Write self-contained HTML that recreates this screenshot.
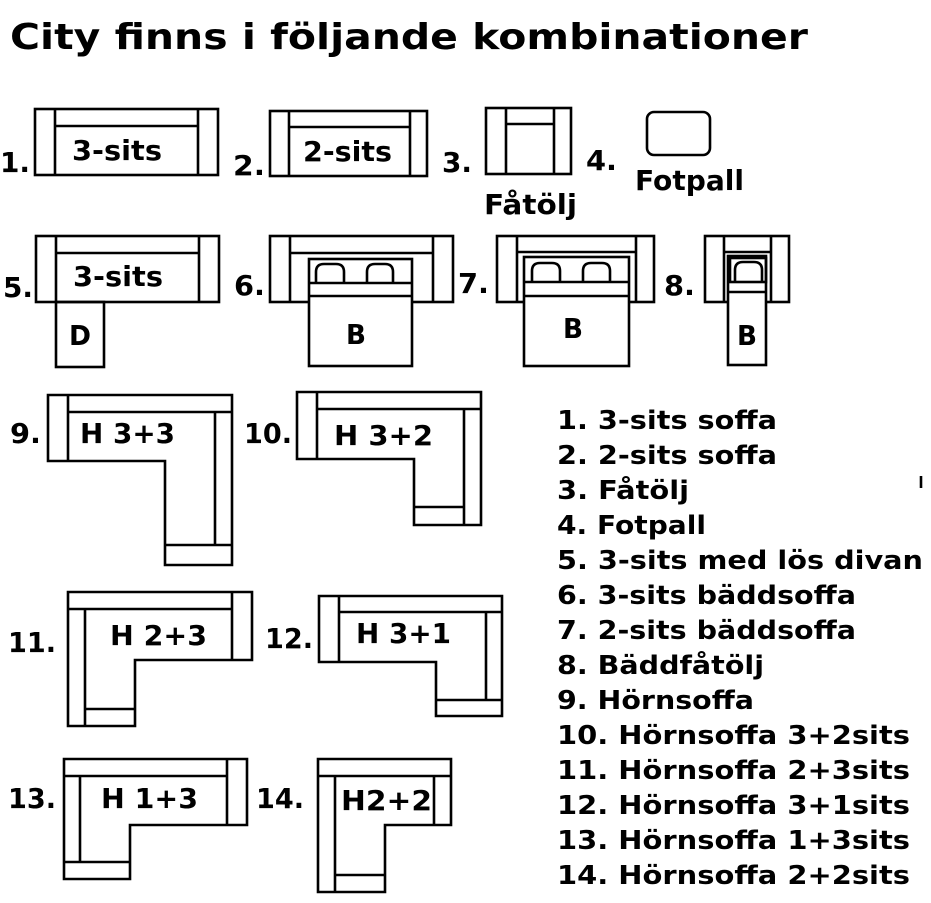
<!DOCTYPE html>
<html><head><meta charset="utf-8"><style>
html,body{margin:0;padding:0;background:#fff;}
svg{display:block}
text{font-family:"DejaVu Sans","Liberation Sans",sans-serif;font-weight:bold;fill:#000}
</style></head><body>
<svg width="931" height="903" viewBox="0 0 931 903" xmlns="http://www.w3.org/2000/svg">
<g fill="none" stroke="#000" stroke-width="2.6">
<rect x="35" y="109" width="183" height="66"/><line x1="55" y1="109" x2="55" y2="175"/><line x1="198" y1="109" x2="198" y2="175"/><line x1="55" y1="126" x2="198" y2="126"/>
<rect x="270" y="111" width="157" height="65"/><line x1="289" y1="111" x2="289" y2="176"/><line x1="410" y1="111" x2="410" y2="176"/><line x1="289" y1="127" x2="410" y2="127"/>
<rect x="486" y="108" width="85" height="66"/><line x1="506" y1="108" x2="506" y2="174"/><line x1="554" y1="108" x2="554" y2="174"/><line x1="506" y1="124" x2="554" y2="124"/>
<rect x="647" y="112" width="63" height="43" rx="7"/>
<rect x="36" y="236" width="183" height="66"/><line x1="56" y1="236" x2="56" y2="302"/><line x1="199" y1="236" x2="199" y2="302"/><line x1="56" y1="253" x2="199" y2="253"/>
<rect x="56" y="302" width="48" height="65"/>
<rect x="270" y="236" width="183" height="66"/><line x1="290" y1="236" x2="290" y2="302"/><line x1="433" y1="236" x2="433" y2="302"/><line x1="290" y1="253" x2="433" y2="253"/>
<rect x="309" y="259" width="103" height="107" fill="#fff"/><line x1="309" y1="283" x2="412" y2="283"/><line x1="309" y1="296" x2="412" y2="296"/>
<path d="M316 283 V272 Q316 264 324 264 H336 Q344 264 344 272 V283"/><path d="M367 283 V272 Q367 264 375 264 H385 Q393 264 393 272 V283"/>
<rect x="497" y="236" width="157" height="66"/><line x1="517" y1="236" x2="517" y2="302"/><line x1="636" y1="236" x2="636" y2="302"/><line x1="517" y1="252" x2="636" y2="252"/>
<rect x="524" y="257" width="105" height="109" fill="#fff"/><line x1="524" y1="282" x2="629" y2="282"/><line x1="524" y1="296" x2="629" y2="296"/>
<path d="M532 282 V271 Q532 263 540 263 H552 Q560 263 560 271 V282"/><path d="M583 282 V271 Q583 263 591 263 H602 Q610 263 610 271 V282"/>
<rect x="705" y="236" width="84" height="66"/><line x1="724" y1="236" x2="724" y2="302"/><line x1="771" y1="236" x2="771" y2="302"/><line x1="724" y1="252" x2="771" y2="252"/>
<rect x="728" y="256" width="38" height="109" fill="#fff"/><rect x="730" y="258" width="36" height="24"/><line x1="728" y1="292" x2="766" y2="292"/>
<path d="M735 282 V270 Q735 262 743 262 H754 Q762 262 762 270 V282"/>
<path d="M48 395 H232 V565 H165 V461 H48 Z"/><line x1="68" y1="395" x2="68" y2="461"/><line x1="68" y1="412" x2="232" y2="412"/><line x1="215" y1="412" x2="215" y2="545"/><line x1="165" y1="545" x2="232" y2="545"/>
<path d="M297 392 H481 V525 H414 V459 H297 Z"/><line x1="317" y1="392" x2="317" y2="459"/><line x1="317" y1="409" x2="481" y2="409"/><line x1="464" y1="409" x2="464" y2="525"/><line x1="414" y1="507" x2="464" y2="507"/>
<path d="M68 592 H252 V660 H135 V726 H68 Z"/><line x1="68" y1="609" x2="232" y2="609"/><line x1="232" y1="592" x2="232" y2="660"/><line x1="85" y1="609" x2="85" y2="726"/><line x1="85" y1="709" x2="135" y2="709"/>
<path d="M319 596 H502 V716 H436 V662 H319 Z"/><line x1="339" y1="596" x2="339" y2="662"/><line x1="339" y1="612" x2="502" y2="612"/><line x1="486" y1="612" x2="486" y2="700"/><line x1="436" y1="700" x2="502" y2="700"/>
<path d="M64 759 H247 V825 H130 V879 H64 Z"/><line x1="64" y1="776" x2="227" y2="776"/><line x1="227" y1="759" x2="227" y2="825"/><line x1="80" y1="776" x2="80" y2="862"/><line x1="64" y1="862" x2="130" y2="862"/>
<path d="M318 759 H451 V825 H385 V892 H318 Z"/><line x1="318" y1="776" x2="451" y2="776"/><line x1="335" y1="776" x2="335" y2="892"/><line x1="434" y1="776" x2="434" y2="825"/><line x1="335" y1="875" x2="385" y2="875"/>
<line x1="921" y1="476" x2="921" y2="488"/>
</g>
<text x="10" y="49" font-size="36" textLength="798" lengthAdjust="spacingAndGlyphs">City finns i följande kombinationer</text>
<g font-size="28">
<text x="0" y="172" textLength="30" lengthAdjust="spacingAndGlyphs">1.</text><text x="72" y="160" textLength="90" lengthAdjust="spacingAndGlyphs">3-sits</text>
<text x="233" y="175" textLength="32" lengthAdjust="spacingAndGlyphs">2.</text><text x="303" y="161" textLength="89" lengthAdjust="spacingAndGlyphs">2-sits</text>
<text x="442" y="172" textLength="30" lengthAdjust="spacingAndGlyphs">3.</text><text x="484" y="214" textLength="93" lengthAdjust="spacingAndGlyphs">Fåtölj</text>
<text x="586" y="170" textLength="31" lengthAdjust="spacingAndGlyphs">4.</text><text x="635" y="190" textLength="109" lengthAdjust="spacingAndGlyphs">Fotpall</text>
<text x="3" y="297" textLength="30" lengthAdjust="spacingAndGlyphs">5.</text><text x="73" y="286" textLength="90" lengthAdjust="spacingAndGlyphs">3-sits</text><text x="69" y="345" textLength="22" lengthAdjust="spacingAndGlyphs">D</text>
<text x="234" y="295" textLength="31" lengthAdjust="spacingAndGlyphs">6.</text><text x="346" y="344" textLength="20" lengthAdjust="spacingAndGlyphs">B</text>
<text x="458" y="293" textLength="31" lengthAdjust="spacingAndGlyphs">7.</text><text x="563" y="338" textLength="20" lengthAdjust="spacingAndGlyphs">B</text>
<text x="664" y="295" textLength="31" lengthAdjust="spacingAndGlyphs">8.</text><text x="737" y="345" textLength="20" lengthAdjust="spacingAndGlyphs">B</text>
<text x="10" y="443" textLength="31" lengthAdjust="spacingAndGlyphs">9.</text><text x="80" y="443" textLength="95" lengthAdjust="spacingAndGlyphs">H 3+3</text>
<text x="244" y="443" textLength="48" lengthAdjust="spacingAndGlyphs">10.</text><text x="334" y="445" textLength="99" lengthAdjust="spacingAndGlyphs">H 3+2</text>
<text x="8" y="652" textLength="48" lengthAdjust="spacingAndGlyphs">11.</text><text x="110" y="645" textLength="97" lengthAdjust="spacingAndGlyphs">H 2+3</text>
<text x="265" y="648" textLength="48" lengthAdjust="spacingAndGlyphs">12.</text><text x="356" y="643" textLength="95" lengthAdjust="spacingAndGlyphs">H 3+1</text>
<text x="8" y="808" textLength="48" lengthAdjust="spacingAndGlyphs">13.</text><text x="101" y="808" textLength="97" lengthAdjust="spacingAndGlyphs">H 1+3</text>
<text x="256" y="808" textLength="48" lengthAdjust="spacingAndGlyphs">14.</text><text x="341" y="810" textLength="91" lengthAdjust="spacingAndGlyphs">H2+2</text>
</g>
<g font-size="26">
<text x="557" y="429" textLength="220" lengthAdjust="spacingAndGlyphs">1. 3-sits soffa</text>
<text x="557" y="464" textLength="220" lengthAdjust="spacingAndGlyphs">2. 2-sits soffa</text>
<text x="557" y="499" textLength="132" lengthAdjust="spacingAndGlyphs">3. Fåtölj</text>
<text x="557" y="534" textLength="149" lengthAdjust="spacingAndGlyphs">4. Fotpall</text>
<text x="557" y="569" textLength="366" lengthAdjust="spacingAndGlyphs">5. 3-sits med lös divan</text>
<text x="557" y="604" textLength="299" lengthAdjust="spacingAndGlyphs">6. 3-sits bäddsoffa</text>
<text x="557" y="639" textLength="299" lengthAdjust="spacingAndGlyphs">7. 2-sits bäddsoffa</text>
<text x="557" y="674" textLength="207" lengthAdjust="spacingAndGlyphs">8. Bäddfåtölj</text>
<text x="557" y="709" textLength="197" lengthAdjust="spacingAndGlyphs">9. Hörnsoffa</text>
<text x="557" y="744" textLength="353" lengthAdjust="spacingAndGlyphs">10. Hörnsoffa 3+2sits</text>
<text x="557" y="779" textLength="353" lengthAdjust="spacingAndGlyphs">11. Hörnsoffa 2+3sits</text>
<text x="557" y="814" textLength="353" lengthAdjust="spacingAndGlyphs">12. Hörnsoffa 3+1sits</text>
<text x="557" y="849" textLength="353" lengthAdjust="spacingAndGlyphs">13. Hörnsoffa 1+3sits</text>
<text x="557" y="884" textLength="353" lengthAdjust="spacingAndGlyphs">14. Hörnsoffa 2+2sits</text>
</g>
</svg>
</body></html>
